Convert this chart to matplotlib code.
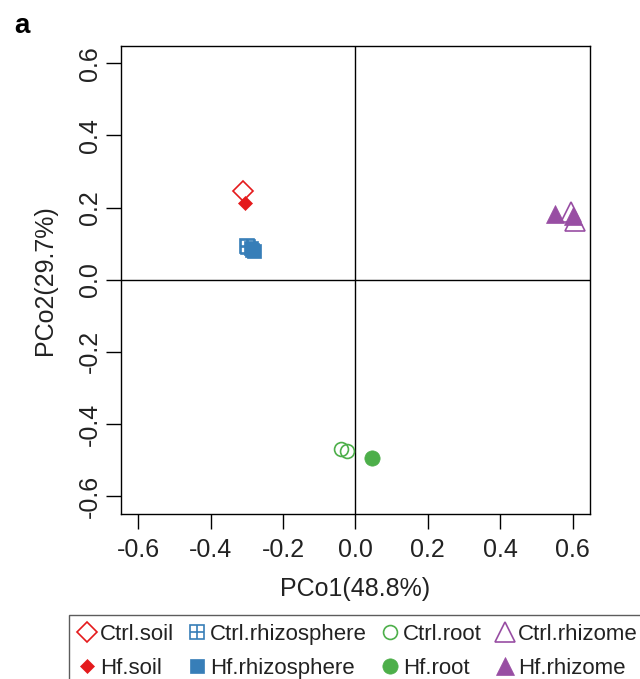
import matplotlib
matplotlib.use("Agg")
import matplotlib.pyplot as plt

plt.rcParams['font.family'] = ['Liberation Sans', 'DejaVu Sans']
plt.rcParams['axes.unicode_minus'] = False

# ---- data ----
ctrl_soil_x = [-0.311]
ctrl_soil_y = [0.245]
hf_soil_x = [-0.306]
hf_soil_y = [0.213]
ctrl_rhizo_x = [-0.300, -0.296]
ctrl_rhizo_y = [0.095, 0.092]
hf_rhizo_x = [-0.290, -0.286, -0.281]
hf_rhizo_y = [0.087, 0.083, 0.079]
ctrl_root_x = [-0.039, -0.023]
ctrl_root_y = [-0.468, -0.476]
hf_root_x = [0.046]
hf_root_y = [-0.494]
ctrl_rhizome_x = [0.597, 0.608]
ctrl_rhizome_y = [0.188, 0.163]
hf_rhizome_x = [0.551, 0.600]
hf_rhizome_y = [0.183, 0.176]

ticks = [-0.6, -0.4, -0.2, 0.0, 0.2, 0.4, 0.6]
tick_labels = ["-0.6", "-0.4", "-0.2", "0.0", "0.2", "0.4", "0.6"]
xlab = "PCo1(48.8%)"
ylab = "PCo2(29.7%)"

RED = "#E41A1C"
BLUE = "#377EB8"
GREEN = "#4DAF4A"
PURPLE = "#984EA3"

fig = plt.figure(figsize=(6.4, 6.79), dpi=100)
ax = fig.add_axes([0.189, 0.2437, 0.7328, 0.6885])

ax.axhline(0, color="black", lw=1.0, zorder=1)
ax.axvline(0, color="black", lw=1.0, zorder=1)

mew = 1.2
h_cs, = ax.plot(ctrl_soil_x, ctrl_soil_y, ls="none", marker="D", ms=10.5,
                mfc="none", mec=RED, mew=mew, zorder=3)
h_hs, = ax.plot(hf_soil_x, hf_soil_y, ls="none", marker="D", ms=7,
                mfc=RED, mec=RED, mew=0.5, zorder=3)
h_cr1, = ax.plot(ctrl_rhizo_x, ctrl_rhizo_y, ls="none", marker="s", ms=10,
                 mfc="none", mec=BLUE, mew=mew, zorder=3)
h_cr2, = ax.plot(ctrl_rhizo_x, ctrl_rhizo_y, ls="none", marker="+", ms=10,
                 mec=BLUE, mew=mew, zorder=3)
h_hr, = ax.plot(hf_rhizo_x, hf_rhizo_y, ls="none", marker="s", ms=10,
                mfc=BLUE, mec=BLUE, mew=0.5, zorder=3)
h_co, = ax.plot(ctrl_root_x, ctrl_root_y, ls="none", marker="o", ms=10,
                mfc="none", mec=GREEN, mew=mew, zorder=3)
h_ho, = ax.plot(hf_root_x, hf_root_y, ls="none", marker="o", ms=11,
                mfc=GREEN, mec=GREEN, mew=0.5, zorder=3)
h_cz, = ax.plot(ctrl_rhizome_x, ctrl_rhizome_y, ls="none", marker="^", ms=14,
                mfc="none", mec=PURPLE, mew=mew, zorder=3)
h_hz, = ax.plot(hf_rhizome_x, hf_rhizome_y, ls="none", marker="^", ms=13,
                mfc=PURPLE, mec=PURPLE, mew=0.5, zorder=3)

ax.set_xlim(-0.648, 0.648)
ax.set_ylim(-0.648, 0.648)
ax.set_xticks(ticks)
ax.set_xticklabels(tick_labels, fontsize=18, color="#222222")
ax.set_yticks(ticks)
ax.set_yticklabels(tick_labels, fontsize=18, rotation=90, va="center", color="#222222")
ax.tick_params(direction="out", length=10.5, width=1.0, pad=7)
ax.tick_params(axis="y", pad=3)
for s in ax.spines.values():
    s.set_linewidth(1.0)
ax.set_xlabel(xlab, fontsize=18, labelpad=11, color="#222222")
ax.set_ylabel(ylab, fontsize=18, labelpad=15, color="#222222")

fig.text(0.023, 0.951, "a", fontsize=20, fontweight="bold")

handles = [h_cs, h_hs, (h_cr1, h_cr2), h_hr, h_co, h_ho, h_cz, h_hz]
labels = ["Ctrl.soil", "Hf.soil", "Ctrl.rhizosphere", "Hf.rhizosphere",
          "Ctrl.root", "Hf.root", "Ctrl.rhizome", "Hf.rhizome"]
leg = fig.legend(handles, labels, ncol=4, loc="upper left",
                 bbox_to_anchor=(69 / 640, 1 - 615 / 679),
                 fontsize=16, handlelength=0.8, handletextpad=0.2,
                 columnspacing=0.62, borderpad=0.4, labelspacing=0.6,
                 borderaxespad=0, frameon=True, fancybox=False)
leg.get_frame().set_edgecolor("#333333")
leg.get_frame().set_linewidth(1.0)
for t in leg.get_texts():
    t.set_color("#222222")

fig.savefig("out.png", dpi=100)
